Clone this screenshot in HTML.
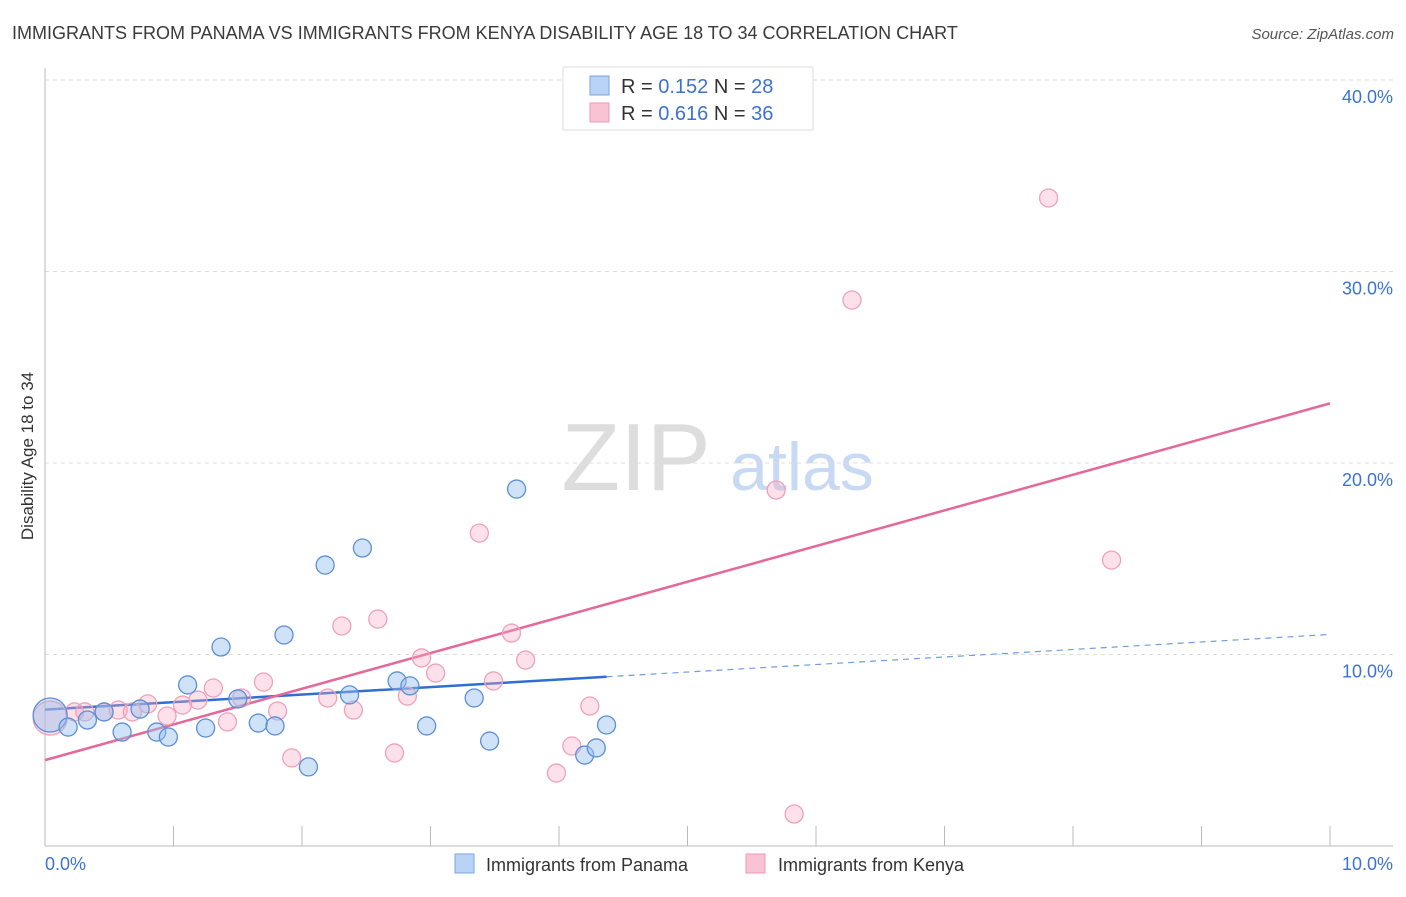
<!DOCTYPE html>
<html><head><meta charset="utf-8">
<style>
body{margin:0;background:#fff;font-family:"Liberation Sans",sans-serif;}
svg text{font-family:"Liberation Sans",sans-serif;}
</style></head>
<body>
<svg id="chart" width="1406" height="892" xmlns="http://www.w3.org/2000/svg">
<text x="12" y="39" font-size="18" fill="#3a3a3a">IMMIGRANTS FROM PANAMA VS IMMIGRANTS FROM KENYA DISABILITY AGE 18 TO 34 CORRELATION CHART</text>
<text x="1394" y="39" font-size="15" fill="#555" text-anchor="end" font-style="italic">Source: ZipAtlas.com</text>
<text transform="translate(33,456) rotate(-90)" font-size="17" fill="#333" text-anchor="middle">Disability Age 18 to 34</text>
<g>
<text x="636" y="490" font-size="96" fill="#ddd" text-anchor="middle" font-family="Liberation Serif,serif">ZIP</text>
<text x="802" y="490" font-size="68" fill="#c8daf3" text-anchor="middle">atlas</text>
</g>
<g id="grid"></g>
<g id="axes"></g>
<g id="trend"></g>
<g id="points"></g>
<g>
<rect x="563" y="67" width="250" height="63" fill="#fff" stroke="#ddd"/>
<rect x="590" y="76" width="19" height="19" fill="#b8d3f5" stroke="#7aa6e0"/>
<rect x="590" y="103" width="19" height="19" fill="#f9c3d3" stroke="#ee9ab5"/>
<text x="621" y="93" font-size="20" fill="#333">R = <tspan fill="#3b73d1">0.152</tspan>   N = <tspan fill="#3b73d1">28</tspan></text>
<text x="621" y="120" font-size="20" fill="#333">R = <tspan fill="#3b73d1">0.616</tspan>   N = <tspan fill="#3b73d1">36</tspan></text>
</g>
<g>
<rect x="455" y="854" width="19" height="19" fill="#b8d3f5" stroke="#7aa6e0"/>
<text x="486" y="871" font-size="18" fill="#333">Immigrants from Panama</text>
<rect x="746" y="854" width="19" height="19" fill="#f9c3d3" stroke="#ee9ab5"/>
<text x="778" y="871" font-size="18" fill="#333">Immigrants from Kenya</text>
</g>
</svg>
<script>
const panamaX=[0.04,0.18,0.33,0.46,0.60,0.74,0.87,0.96,1.11,1.25,1.37,1.50,1.66,1.79,1.86,2.05,2.18,2.37,2.47,2.74,2.84,2.97,3.34,3.46,3.67,4.20,4.29,4.37];
const panamaY=[6.84,6.21,6.58,7.00,5.95,7.15,5.95,5.69,8.41,6.16,10.39,7.68,6.42,6.27,11.02,4.13,14.67,7.89,15.56,8.62,8.36,6.27,7.73,5.48,18.64,4.75,5.12,6.32];
const kenyaX=[0.04,0.23,0.31,0.46,0.57,0.68,0.80,0.95,1.07,1.19,1.31,1.42,1.53,1.70,1.81,1.92,2.20,2.31,2.40,2.59,2.72,2.82,2.93,3.04,3.38,3.49,3.63,3.74,3.98,4.10,4.24,5.69,5.83,6.28,7.81,8.30];
const kenyaY=[6.68,7.00,7.00,7.00,7.10,7.00,7.42,6.79,7.36,7.62,8.25,6.48,7.73,8.56,7.05,4.60,7.73,11.49,7.10,11.85,4.86,7.83,9.82,9.03,16.34,8.62,11.12,9.71,3.81,5.22,7.31,18.59,1.67,28.51,33.84,14.93];
const yTicks=[10,20,30,40];
const yTickLabels=["10.0%","20.0%","30.0%","40.0%"];
const xTicks=[0,1,2,3,4,5,6,7,8,9,10];
const NS="http://www.w3.org/2000/svg";
const sx=v=>45+v*128.5, sy=v=>846-v*19.15;
function mk(t,a,p){const e=document.createElementNS(NS,t);for(const k in a)e.setAttribute(k,a[k]);p.appendChild(e);return e;}
const grid=document.getElementById('grid'),axes=document.getElementById('axes'),trend=document.getElementById('trend'),pts=document.getElementById('points');
yTicks.forEach((v,i)=>{
 const l=mk('line',{x1:45,x2:1393,y1:sy(v),y2:sy(v),stroke:'#ddd','stroke-dasharray':'4,4'},grid);
 
 
 const t=mk('text',{x:1393,y:sy(v)+23,'font-size':18,fill:'#3b73d1','text-anchor':'end'},axes);
 t.textContent=yTickLabels[i];
 
 
});
const ya=mk('line',{x1:45,x2:45,y1:68,y2:846,stroke:'#bbb'},axes);


const xa=mk('line',{x1:45,x2:1393,y1:846,y2:846,stroke:'#bbb'},axes);


xTicks.forEach(v=>{const l=mk('line',{x1:sx(v),x2:sx(v),y1:826,y2:846,stroke:'#bbb'},axes);
 
 });
let t0=mk('text',{x:45,y:870,'font-size':18,fill:'#3b73d1'},axes);t0.textContent="0.0%";


let t1=mk('text',{x:1393,y:870,'font-size':18,fill:'#3b73d1','text-anchor':'end'},axes);t1.textContent="10.0%";


function fit(X,Y){const n=X.length;let mx=0,my=0;for(let i=0;i<n;i++){mx+=X[i];my+=Y[i];}mx/=n;my/=n;let a=0,b=0;for(let i=0;i<n;i++){a+=(X[i]-mx)*(Y[i]-my);b+=(X[i]-mx)**2;}const s=a/b;return [my-s*mx,s];}
const [pb,ps]=fit(panamaX,panamaY),[kb,ks]=fit(kenyaX,kenyaY);
const pmax=Math.max(...panamaX);
let l1=mk('line',{x1:sx(0),y1:sy(pb),x2:sx(pmax),y2:sy(pb+ps*pmax),stroke:'#2f6fd0','stroke-width':2.5},trend);


let l2=mk('line',{x1:sx(pmax),y1:sy(pb+ps*pmax),x2:sx(10),y2:sy(pb+ps*10),stroke:'#6f9de0','stroke-width':1.2,'stroke-dasharray':'6,5'},trend);


let l3=mk('line',{x1:sx(0),y1:sy(kb),x2:sx(10),y2:sy(kb+ks*10),stroke:'#e4689a','stroke-width':2.5},trend);


function draw(X,Y,fill,stroke,name){X.forEach((x,i)=>{const r=i==0?17:9;
 const c=mk('circle',{cx:sx(x),cy:sy(Y[i]),r:r,fill:fill,stroke:stroke,'stroke-width':1.3},pts);
 
 });}
draw(kenyaX,kenyaY,'rgba(246,170,195,0.35)','#f0a0ba','kenya-point');
draw(panamaX,panamaY,'rgba(150,190,240,0.45)','#5b8fd6','panama-point');
</script>
</body></html>
